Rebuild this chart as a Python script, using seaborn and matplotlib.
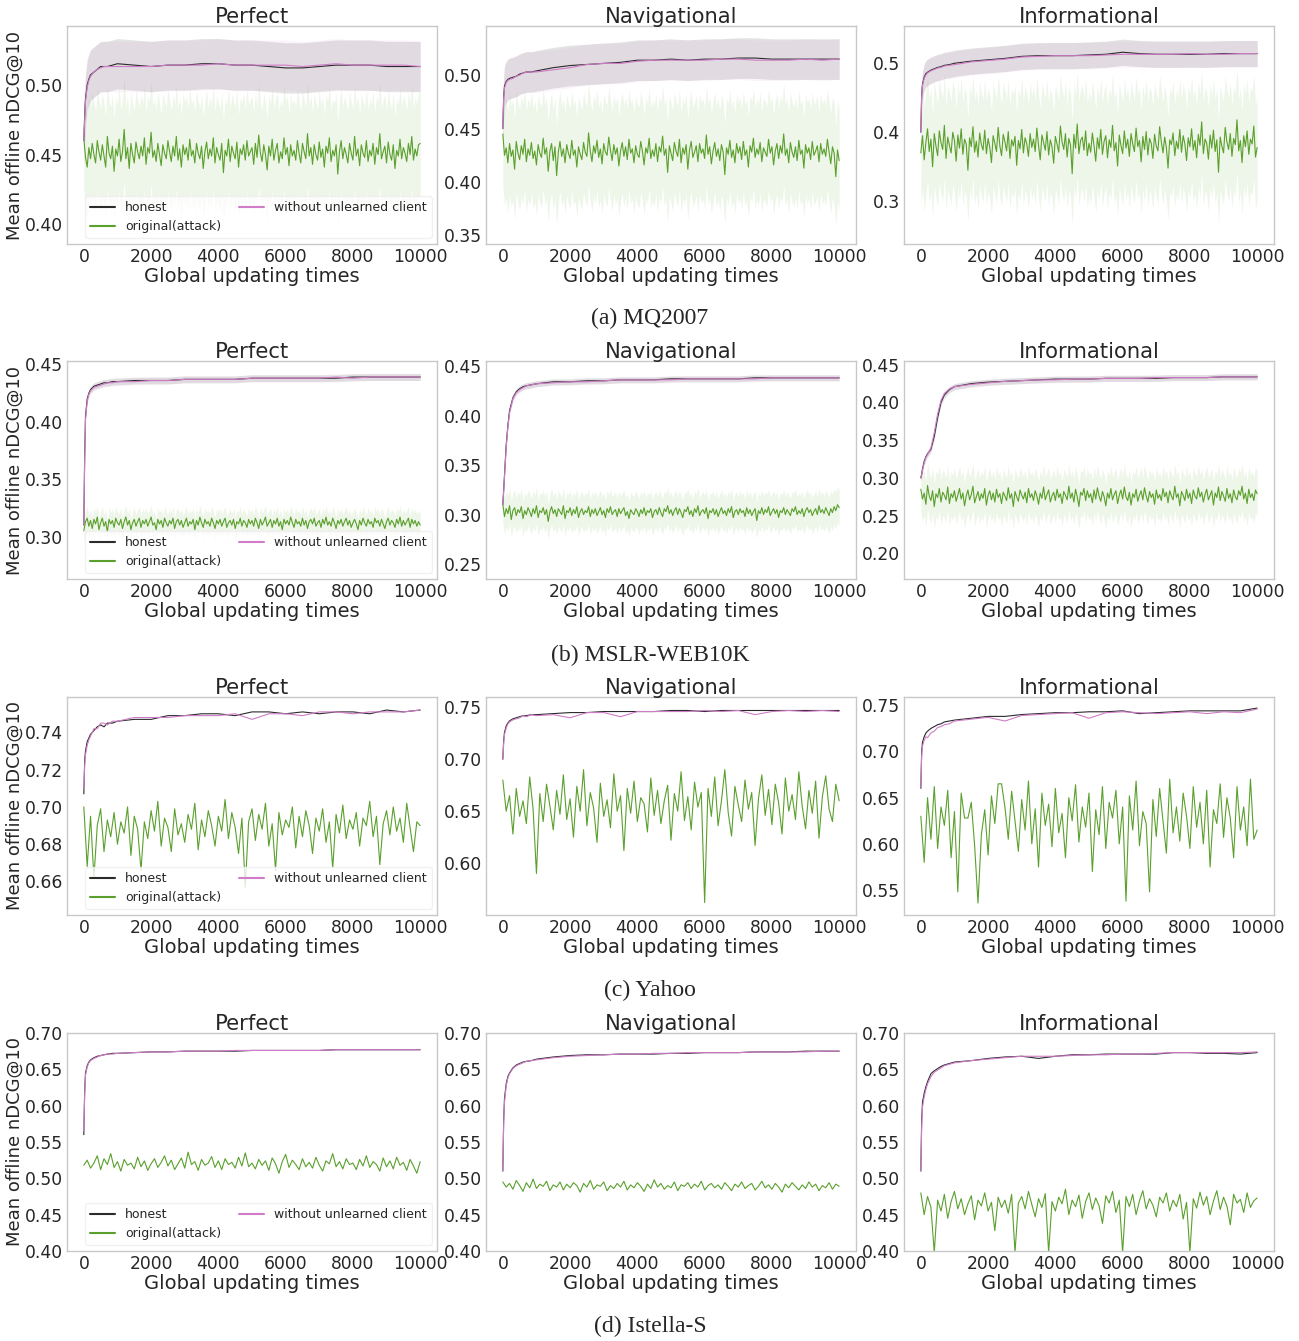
import numpy as np
import pandas as pd
import matplotlib
matplotlib.use("Agg")
import matplotlib.pyplot as plt
import seaborn as sns

# ---------------- data ----------------
DATASETS = ["MQ2007", "MSLR-WEB10K", "Yahoo", "Istella-S"]
CLICK_MODELS = ["Perfect", "Navigational", "Informational"]

# global updating times of the sampled points
STEPS_CURVE = [0, 25, 50, 100, 150, 200, 300, 400, 500, 600, 700, 850, 1000,
               1500, 2000, 2500, 3000, 3500, 4000, 4500, 5000, 5500, 6000,
               6500, 7000, 7500, 8000, 8500, 9000, 9500, 10000]
STEPS_ATTACK_FINE = list(range(0, 10001, 50))     # MQ2007, MSLR-WEB10K
STEPS_ATTACK = list(range(0, 10001, 100))         # Yahoo, Istella-S

# MQ2007
MQ_PER_HON = [0.460, 0.478, 0.490, 0.500, 0.504, 0.507, 0.509, 0.511, 0.513, 0.513, 0.513, 0.514, 0.515, 0.514, 0.513, 0.514, 0.514, 0.515, 0.515, 0.514, 0.514, 0.513, 0.512, 0.512, 0.513, 0.514, 0.514, 0.514, 0.513, 0.513, 0.513]
MQ_PER_UNL = [0.460, 0.475, 0.488, 0.498, 0.503, 0.506, 0.509, 0.511, 0.512, 0.513, 0.513, 0.513, 0.513, 0.513, 0.513, 0.514, 0.514, 0.514, 0.515, 0.514, 0.514, 0.514, 0.514, 0.513, 0.514, 0.515, 0.514, 0.514, 0.514, 0.514, 0.513]
MQ_PER_ATK = [0.462, 0.448, 0.441, 0.455, 0.447, 0.458, 0.450, 0.444, 0.460, 0.452,
              0.446, 0.457, 0.449, 0.441, 0.463, 0.451, 0.447, 0.456, 0.438, 0.454,
              0.449, 0.461, 0.445, 0.452, 0.468, 0.447, 0.455, 0.440, 0.458, 0.450,
              0.444, 0.459, 0.452, 0.447, 0.456, 0.449, 0.462, 0.443, 0.455, 0.451,
              0.466, 0.448, 0.453, 0.445, 0.458, 0.450, 0.442, 0.457, 0.451, 0.447,
              0.460, 0.452, 0.445, 0.456, 0.449, 0.463, 0.446, 0.454, 0.441, 0.457,
              0.450, 0.455, 0.446, 0.461, 0.449, 0.453, 0.444, 0.458, 0.451, 0.447,
              0.456, 0.440, 0.452, 0.459, 0.447, 0.454, 0.449, 0.462, 0.444, 0.455,
              0.450, 0.446, 0.458, 0.437, 0.453, 0.449, 0.461, 0.445, 0.456, 0.451,
              0.447, 0.459, 0.441, 0.454, 0.450, 0.457, 0.446, 0.460, 0.449, 0.452,
              0.455, 0.443, 0.458, 0.448, 0.464, 0.451, 0.445, 0.457, 0.450, 0.439,
              0.456, 0.449, 0.461, 0.446, 0.453, 0.458, 0.444, 0.452, 0.447, 0.462,
              0.450, 0.455, 0.442, 0.457, 0.449, 0.453, 0.446, 0.460, 0.451, 0.444,
              0.458, 0.452, 0.447, 0.465, 0.449, 0.455, 0.443, 0.457, 0.450, 0.446,
              0.459, 0.448, 0.454, 0.441, 0.456, 0.451, 0.462, 0.445, 0.453, 0.449,
              0.457, 0.436, 0.452, 0.460, 0.447, 0.455, 0.450, 0.444, 0.458, 0.451,
              0.446, 0.463, 0.449, 0.454, 0.442, 0.457, 0.451, 0.448, 0.460, 0.445,
              0.453, 0.449, 0.458, 0.443, 0.455, 0.450, 0.465, 0.447, 0.452, 0.456,
              0.444, 0.459, 0.450, 0.446, 0.457, 0.440, 0.453, 0.449, 0.461, 0.447,
              0.455, 0.451, 0.445, 0.458, 0.450, 0.463, 0.446, 0.454, 0.449, 0.457,
              0.458]
MQ_NAV_HON = [0.450, 0.480, 0.490, 0.494, 0.496, 0.497, 0.498, 0.499, 0.501, 0.502, 0.503, 0.503, 0.504, 0.507, 0.509, 0.510, 0.511, 0.512, 0.514, 0.514, 0.515, 0.514, 0.515, 0.515, 0.516, 0.516, 0.515, 0.515, 0.515, 0.515, 0.515]
MQ_NAV_UNL = [0.450, 0.478, 0.488, 0.493, 0.495, 0.496, 0.497, 0.499, 0.500, 0.502, 0.503, 0.503, 0.503, 0.505, 0.507, 0.510, 0.511, 0.511, 0.513, 0.514, 0.514, 0.514, 0.514, 0.515, 0.515, 0.514, 0.514, 0.514, 0.515, 0.514, 0.515]
MQ_NAV_ATK = [0.445, 0.425, 0.432, 0.418, 0.436, 0.424, 0.430, 0.412, 0.438, 0.427,
              0.421, 0.434, 0.426, 0.440, 0.419, 0.431, 0.425, 0.437, 0.422, 0.429,
              0.416, 0.435, 0.427, 0.423, 0.441, 0.426, 0.432, 0.410, 0.429, 0.436,
              0.420, 0.433, 0.406, 0.428, 0.438, 0.424, 0.431, 0.418, 0.435, 0.427,
              0.422, 0.439, 0.425, 0.430, 0.414, 0.433, 0.426, 0.421, 0.437, 0.428,
              0.424, 0.446, 0.429, 0.419, 0.434, 0.427, 0.439, 0.423, 0.431, 0.417,
              0.436, 0.428, 0.425, 0.442, 0.430, 0.420, 0.435, 0.426, 0.432, 0.415,
              0.429, 0.437, 0.424, 0.433, 0.421, 0.440, 0.427, 0.431, 0.418, 0.434,
              0.426, 0.423, 0.438, 0.429, 0.416, 0.432, 0.427, 0.441, 0.422, 0.430,
              0.424, 0.436, 0.419, 0.433, 0.428, 0.443, 0.425, 0.431, 0.409, 0.434,
              0.427, 0.420, 0.437, 0.429, 0.424, 0.440, 0.418, 0.432, 0.426, 0.435,
              0.412, 0.430, 0.438, 0.423, 0.428, 0.434, 0.419, 0.436, 0.427, 0.431,
              0.422, 0.444, 0.426, 0.433, 0.417, 0.429, 0.437, 0.424, 0.431, 0.420,
              0.435, 0.428, 0.407, 0.432, 0.426, 0.439, 0.423, 0.430, 0.418, 0.436,
              0.427, 0.433, 0.421, 0.438, 0.425, 0.430, 0.414, 0.434, 0.428, 0.441,
              0.423, 0.431, 0.426, 0.437, 0.419, 0.432, 0.428, 0.424, 0.440, 0.427,
              0.433, 0.416, 0.429, 0.436, 0.422, 0.434, 0.427, 0.445, 0.425, 0.431,
              0.418, 0.437, 0.428, 0.423, 0.433, 0.420, 0.439, 0.426, 0.430, 0.413,
              0.435, 0.427, 0.432, 0.421, 0.438, 0.425, 0.429, 0.434, 0.419, 0.436,
              0.426, 0.431, 0.424, 0.440, 0.428, 0.417, 0.433, 0.427, 0.405, 0.430,
              0.420]
MQ_INF_HON = [0.400, 0.455, 0.470, 0.480, 0.485, 0.487, 0.490, 0.492, 0.494, 0.495, 0.497, 0.498, 0.500, 0.503, 0.505, 0.507, 0.510, 0.511, 0.511, 0.511, 0.512, 0.513, 0.516, 0.514, 0.513, 0.513, 0.513, 0.513, 0.514, 0.514, 0.514]
MQ_INF_UNL = [0.400, 0.452, 0.468, 0.478, 0.483, 0.486, 0.489, 0.491, 0.493, 0.494, 0.496, 0.497, 0.498, 0.502, 0.504, 0.506, 0.509, 0.510, 0.511, 0.511, 0.511, 0.512, 0.513, 0.513, 0.513, 0.513, 0.514, 0.513, 0.513, 0.514, 0.514]
MQ_INF_ATK = [0.370, 0.395, 0.360, 0.385, 0.405, 0.372, 0.390, 0.350, 0.398, 0.380,
              0.366, 0.402, 0.385, 0.375, 0.410, 0.362, 0.393, 0.381, 0.370, 0.400,
              0.388, 0.358, 0.396, 0.377, 0.405, 0.368, 0.390, 0.383, 0.345, 0.392,
              0.379, 0.408, 0.371, 0.387, 0.364, 0.399, 0.382, 0.374, 0.403, 0.369,
              0.391, 0.378, 0.356, 0.395, 0.384, 0.372, 0.407, 0.380, 0.366, 0.397,
              0.386, 0.373, 0.401, 0.362, 0.389, 0.380, 0.394, 0.352, 0.388, 0.376,
              0.404, 0.370, 0.392, 0.383, 0.365, 0.398, 0.378, 0.390, 0.372, 0.406,
              0.381, 0.360, 0.396, 0.385, 0.374, 0.401, 0.367, 0.389, 0.379, 0.355,
              0.394, 0.383, 0.371, 0.409, 0.386, 0.375, 0.398, 0.364, 0.391, 0.382,
              0.340, 0.397, 0.377, 0.412, 0.369, 0.388, 0.393, 0.374, 0.402, 0.366,
              0.384, 0.371, 0.399, 0.380, 0.358, 0.392, 0.376, 0.404, 0.368, 0.387,
              0.395, 0.363, 0.389, 0.378, 0.410, 0.373, 0.385, 0.351, 0.396, 0.381,
              0.369, 0.402, 0.377, 0.390, 0.365, 0.398, 0.383, 0.372, 0.406, 0.379,
              0.388, 0.357, 0.394, 0.375, 0.401, 0.367, 0.391, 0.384, 0.362, 0.397,
              0.380, 0.373, 0.408, 0.386, 0.370, 0.393, 0.378, 0.348, 0.389, 0.382,
              0.399, 0.366, 0.387, 0.376, 0.404, 0.371, 0.395, 0.383, 0.359, 0.392,
              0.379, 0.405, 0.374, 0.388, 0.363, 0.397, 0.381, 0.415, 0.369, 0.390,
              0.384, 0.361, 0.396, 0.377, 0.403, 0.372, 0.389, 0.342, 0.393, 0.380,
              0.370, 0.407, 0.386, 0.375, 0.398, 0.365, 0.391, 0.382, 0.418, 0.373,
              0.388, 0.356, 0.395, 0.379, 0.402, 0.368, 0.390, 0.383, 0.409, 0.364,
              0.378]

# MSLR-WEB10K
MS_PER_HON = [0.310, 0.370, 0.405, 0.420, 0.425, 0.428, 0.431, 0.432, 0.433, 0.434, 0.434, 0.435, 0.435, 0.436, 0.436, 0.436, 0.437, 0.437, 0.437, 0.437, 0.438, 0.438, 0.438, 0.438, 0.438, 0.438, 0.439, 0.439, 0.439, 0.439, 0.439]
MS_PER_UNL = [0.310, 0.365, 0.402, 0.418, 0.424, 0.427, 0.430, 0.431, 0.432, 0.433, 0.434, 0.434, 0.435, 0.435, 0.436, 0.436, 0.437, 0.437, 0.437, 0.437, 0.438, 0.438, 0.438, 0.438, 0.438, 0.439, 0.438, 0.439, 0.439, 0.439, 0.439]
MS_PER_ATK = [0.305, 0.313, 0.316, 0.309, 0.314, 0.307, 0.315, 0.311, 0.317, 0.306,
              0.312, 0.316, 0.309, 0.313, 0.304, 0.315, 0.311, 0.314, 0.308, 0.316,
              0.312, 0.310, 0.315, 0.307, 0.313, 0.317, 0.310, 0.314, 0.306, 0.312,
              0.315, 0.309, 0.313, 0.316, 0.308, 0.314, 0.311, 0.315, 0.309, 0.313,
              0.317, 0.310, 0.312, 0.306, 0.315, 0.311, 0.314, 0.308, 0.316, 0.312,
              0.309, 0.314, 0.311, 0.316, 0.307, 0.313, 0.315, 0.310, 0.314, 0.308,
              0.312, 0.316, 0.309, 0.313, 0.311, 0.315, 0.306, 0.314, 0.310, 0.317,
              0.312, 0.308, 0.315, 0.311, 0.313, 0.309, 0.316, 0.312, 0.307, 0.314,
              0.311, 0.315, 0.309, 0.313, 0.316, 0.308, 0.312, 0.314, 0.310, 0.315,
              0.307, 0.313, 0.311, 0.316, 0.309, 0.314, 0.312, 0.308, 0.315, 0.311,
              0.314, 0.309, 0.316, 0.312, 0.307, 0.315, 0.310, 0.313, 0.317, 0.309,
              0.312, 0.315, 0.308, 0.314, 0.311, 0.316, 0.309, 0.313, 0.306, 0.315,
              0.311, 0.314, 0.310, 0.317, 0.312, 0.308, 0.315, 0.311, 0.313, 0.309,
              0.316, 0.310, 0.314, 0.307, 0.313, 0.315, 0.311, 0.316, 0.309, 0.312,
              0.314, 0.308, 0.315, 0.311, 0.317, 0.310, 0.313, 0.309, 0.316, 0.312,
              0.307, 0.314, 0.311, 0.315, 0.309, 0.313, 0.316, 0.310, 0.314, 0.308,
              0.312, 0.315, 0.311, 0.306, 0.314, 0.310, 0.316, 0.312, 0.309, 0.315,
              0.311, 0.313, 0.308, 0.316, 0.312, 0.314, 0.309, 0.315, 0.311, 0.307,
              0.313, 0.316, 0.310, 0.314, 0.312, 0.308, 0.315, 0.311, 0.317, 0.309,
              0.314, 0.310, 0.313, 0.316, 0.308, 0.315, 0.311, 0.314, 0.309, 0.313,
              0.310]
MS_NAV_HON = [0.310, 0.325, 0.340, 0.370, 0.390, 0.405, 0.418, 0.424, 0.427, 0.429, 0.430, 0.431, 0.432, 0.434, 0.434, 0.435, 0.435, 0.436, 0.436, 0.436, 0.437, 0.437, 0.437, 0.437, 0.437, 0.438, 0.438, 0.438, 0.438, 0.438, 0.438]
MS_NAV_UNL = [0.310, 0.323, 0.338, 0.368, 0.388, 0.403, 0.417, 0.423, 0.426, 0.428, 0.430, 0.431, 0.432, 0.433, 0.434, 0.434, 0.435, 0.436, 0.436, 0.436, 0.436, 0.437, 0.437, 0.437, 0.437, 0.437, 0.438, 0.438, 0.438, 0.438, 0.438]
MS_NAV_ATK = [0.310, 0.298, 0.306, 0.301, 0.309, 0.295, 0.304, 0.307, 0.299, 0.305,
              0.302, 0.308, 0.296, 0.304, 0.300, 0.307, 0.303, 0.298, 0.306, 0.301,
              0.309, 0.297, 0.304, 0.302, 0.307, 0.300, 0.305, 0.293, 0.303, 0.308,
              0.301, 0.305, 0.298, 0.306, 0.303, 0.300, 0.309, 0.296, 0.304, 0.302,
              0.307, 0.299, 0.305, 0.301, 0.308, 0.297, 0.303, 0.306, 0.300, 0.304,
              0.302, 0.308, 0.298, 0.305, 0.301, 0.306, 0.299, 0.303, 0.307, 0.300,
              0.304, 0.297, 0.306, 0.302, 0.308, 0.300, 0.303, 0.305, 0.298, 0.306,
              0.301, 0.304, 0.307, 0.299, 0.303, 0.296, 0.305, 0.302, 0.300, 0.306,
              0.303, 0.298, 0.305, 0.301, 0.307, 0.299, 0.304, 0.302, 0.306, 0.297,
              0.303, 0.305, 0.300, 0.307, 0.302, 0.298, 0.306, 0.303, 0.309, 0.301,
              0.305, 0.299, 0.304, 0.307, 0.300, 0.306, 0.302, 0.297, 0.305, 0.303,
              0.308, 0.300, 0.304, 0.298, 0.306, 0.302, 0.309, 0.299, 0.303, 0.305,
              0.301, 0.307, 0.296, 0.304, 0.302, 0.306, 0.300, 0.305, 0.298, 0.303,
              0.307, 0.301, 0.304, 0.299, 0.306, 0.302, 0.308, 0.297, 0.303, 0.305,
              0.300, 0.306, 0.302, 0.304, 0.298, 0.307, 0.301, 0.305, 0.299, 0.303,
              0.306, 0.294, 0.304, 0.301, 0.307, 0.300, 0.305, 0.302, 0.308, 0.299,
              0.303, 0.306, 0.301, 0.305, 0.297, 0.304, 0.302, 0.307, 0.300, 0.305,
              0.302, 0.299, 0.306, 0.303, 0.308, 0.300, 0.304, 0.301, 0.306, 0.298,
              0.304, 0.307, 0.302, 0.305, 0.299, 0.303, 0.306, 0.300, 0.309, 0.302,
              0.305, 0.301, 0.307, 0.303, 0.299, 0.306, 0.302, 0.308, 0.304, 0.310,
              0.307]
MS_INF_HON = [0.300, 0.305, 0.312, 0.322, 0.328, 0.332, 0.338, 0.355, 0.380, 0.400, 0.410, 0.417, 0.421, 0.425, 0.427, 0.428, 0.429, 0.430, 0.431, 0.431, 0.431, 0.432, 0.432, 0.432, 0.432, 0.433, 0.433, 0.433, 0.434, 0.434, 0.434]
MS_INF_UNL = [0.300, 0.304, 0.310, 0.320, 0.327, 0.331, 0.340, 0.360, 0.385, 0.403, 0.412, 0.418, 0.421, 0.424, 0.426, 0.428, 0.429, 0.430, 0.430, 0.431, 0.431, 0.432, 0.432, 0.432, 0.433, 0.433, 0.433, 0.433, 0.434, 0.434, 0.434]
MS_INF_ATK = [0.285, 0.272, 0.280, 0.265, 0.290, 0.276, 0.270, 0.283, 0.262, 0.279,
              0.274, 0.286, 0.268, 0.281, 0.277, 0.271, 0.288, 0.266, 0.279, 0.274,
              0.283, 0.269, 0.277, 0.286, 0.272, 0.280, 0.263, 0.276, 0.284, 0.271,
              0.278, 0.289, 0.267, 0.275, 0.282, 0.270, 0.279, 0.273, 0.286, 0.264,
              0.277, 0.283, 0.271, 0.280, 0.268, 0.285, 0.274, 0.279, 0.266, 0.281,
              0.276, 0.270, 0.287, 0.273, 0.279, 0.262, 0.282, 0.275, 0.269, 0.284,
              0.277, 0.272, 0.281, 0.267, 0.286, 0.274, 0.279, 0.270, 0.283, 0.276,
              0.265, 0.280, 0.273, 0.288, 0.271, 0.278, 0.284, 0.268, 0.276, 0.281,
              0.270, 0.285, 0.274, 0.279, 0.266, 0.282, 0.277, 0.271, 0.289, 0.273,
              0.280, 0.268, 0.285, 0.275, 0.262, 0.281, 0.277, 0.286, 0.270, 0.283,
              0.274, 0.279, 0.267, 0.284, 0.272, 0.287, 0.276, 0.269, 0.282, 0.275,
              0.263, 0.280, 0.273, 0.286, 0.271, 0.278, 0.283, 0.266, 0.277, 0.284,
              0.272, 0.288, 0.275, 0.270, 0.281, 0.264, 0.279, 0.274, 0.285, 0.269,
              0.277, 0.283, 0.271, 0.287, 0.276, 0.268, 0.282, 0.274, 0.279, 0.265,
              0.284, 0.273, 0.278, 0.270, 0.286, 0.275, 0.281, 0.267, 0.283, 0.276,
              0.271, 0.289, 0.274, 0.279, 0.263, 0.282, 0.277, 0.270, 0.285, 0.273,
              0.280, 0.266, 0.284, 0.276, 0.272, 0.287, 0.275, 0.281, 0.268, 0.278,
              0.285, 0.271, 0.277, 0.283, 0.264, 0.280, 0.274, 0.288, 0.270, 0.282,
              0.276, 0.269, 0.286, 0.273, 0.279, 0.267, 0.284, 0.275, 0.271, 0.283,
              0.277, 0.289, 0.272, 0.280, 0.266, 0.285, 0.274, 0.279, 0.270, 0.284,
              0.279]

# Yahoo
YH_PER_HON = [0.707, 0.725, 0.730, 0.735, 0.737, 0.739, 0.741, 0.743, 0.744, 0.743, 0.745, 0.745, 0.746, 0.747, 0.747, 0.749, 0.749, 0.750, 0.750, 0.749, 0.751, 0.751, 0.750, 0.751, 0.750, 0.751, 0.751, 0.750, 0.752, 0.751, 0.752]
YH_PER_UNL = [0.710, 0.722, 0.728, 0.733, 0.736, 0.738, 0.742, 0.742, 0.745, 0.745, 0.744, 0.746, 0.746, 0.748, 0.748, 0.748, 0.749, 0.749, 0.749, 0.750, 0.747, 0.750, 0.750, 0.749, 0.751, 0.751, 0.750, 0.751, 0.751, 0.751, 0.752]
YH_PER_ATK = [0.700, 0.668, 0.695, 0.662, 0.690, 0.699, 0.676, 0.693, 0.684, 0.697,
              0.680, 0.692, 0.686, 0.700, 0.674, 0.695, 0.688, 0.666, 0.692, 0.683,
              0.698, 0.687, 0.703, 0.679, 0.694, 0.689, 0.676, 0.699, 0.685, 0.691,
              0.681, 0.696, 0.688, 0.702, 0.677, 0.693, 0.684, 0.698, 0.690, 0.679,
              0.695, 0.687, 0.704, 0.683, 0.697, 0.689, 0.675, 0.694, 0.657, 0.692,
              0.699, 0.682, 0.696, 0.688, 0.702, 0.679, 0.691, 0.666, 0.697, 0.685,
              0.693, 0.689, 0.700, 0.678, 0.695, 0.684, 0.698, 0.690, 0.675, 0.694,
              0.687, 0.699, 0.681, 0.692, 0.667, 0.696, 0.686, 0.701, 0.683, 0.693,
              0.688, 0.697, 0.679, 0.694, 0.690, 0.703, 0.684, 0.695, 0.669, 0.691,
              0.698, 0.685, 0.700, 0.687, 0.694, 0.681, 0.702, 0.689, 0.676, 0.692,
              0.690]
YH_NAV_HON = [0.700, 0.718, 0.726, 0.732, 0.735, 0.737, 0.739, 0.740, 0.741, 0.742, 0.742, 0.743, 0.743, 0.744, 0.745, 0.745, 0.746, 0.746, 0.746, 0.746, 0.747, 0.747, 0.746, 0.747, 0.747, 0.747, 0.747, 0.747, 0.747, 0.747, 0.747]
YH_NAV_UNL = [0.700, 0.715, 0.724, 0.730, 0.734, 0.736, 0.738, 0.739, 0.740, 0.742, 0.741, 0.743, 0.742, 0.743, 0.740, 0.745, 0.745, 0.741, 0.746, 0.746, 0.746, 0.746, 0.747, 0.746, 0.747, 0.743, 0.746, 0.747, 0.746, 0.747, 0.746]
YH_NAV_ATK = [0.680, 0.650, 0.665, 0.628, 0.672, 0.645, 0.660, 0.638, 0.683, 0.652,
              0.590, 0.667, 0.640, 0.676, 0.655, 0.632, 0.670, 0.647, 0.685, 0.642,
              0.662, 0.625, 0.674, 0.650, 0.690, 0.636, 0.668, 0.653, 0.620, 0.677,
              0.645, 0.661, 0.634, 0.686, 0.650, 0.665, 0.612, 0.672, 0.648, 0.679,
              0.640, 0.663, 0.657, 0.630, 0.682, 0.646, 0.670, 0.638, 0.660, 0.675,
              0.622, 0.667, 0.650, 0.688, 0.641, 0.664, 0.632, 0.678, 0.654, 0.668,
              0.562, 0.672, 0.645, 0.683, 0.636, 0.660, 0.690, 0.649, 0.626, 0.674,
              0.656, 0.640, 0.680, 0.652, 0.668, 0.617, 0.662, 0.685, 0.646, 0.671,
              0.637, 0.676, 0.658, 0.628, 0.682, 0.650, 0.666, 0.642, 0.688, 0.655,
              0.633, 0.670, 0.648, 0.679, 0.624, 0.664, 0.684, 0.652, 0.640, 0.676,
              0.660]
YH_INF_HON = [0.660, 0.700, 0.710, 0.716, 0.720, 0.722, 0.725, 0.727, 0.729, 0.730, 0.732, 0.733, 0.734, 0.736, 0.738, 0.738, 0.740, 0.741, 0.742, 0.742, 0.743, 0.743, 0.744, 0.741, 0.742, 0.743, 0.744, 0.744, 0.744, 0.744, 0.747]
YH_INF_UNL = [0.660, 0.695, 0.706, 0.712, 0.716, 0.715, 0.720, 0.722, 0.726, 0.727, 0.729, 0.730, 0.733, 0.735, 0.737, 0.733, 0.739, 0.740, 0.741, 0.742, 0.736, 0.742, 0.743, 0.742, 0.741, 0.742, 0.743, 0.741, 0.743, 0.742, 0.746]
YH_INF_ATK = [0.630, 0.580, 0.650, 0.605, 0.662, 0.595, 0.640, 0.620, 0.658, 0.585,
              0.635, 0.548, 0.655, 0.628, 0.628, 0.645, 0.598, 0.536, 0.610, 0.637,
              0.588, 0.652, 0.622, 0.665, 0.665, 0.640, 0.605, 0.657, 0.625, 0.592,
              0.648, 0.615, 0.668, 0.600, 0.638, 0.575, 0.655, 0.620, 0.643, 0.597,
              0.660, 0.612, 0.633, 0.585, 0.650, 0.625, 0.664, 0.602, 0.640, 0.618,
              0.655, 0.570, 0.637, 0.610, 0.662, 0.595, 0.645, 0.628, 0.658, 0.600,
              0.640, 0.538, 0.652, 0.615, 0.668, 0.598, 0.635, 0.622, 0.548, 0.648,
              0.608, 0.660, 0.625, 0.590, 0.670, 0.612, 0.640, 0.603, 0.655, 0.630,
              0.595, 0.662, 0.618, 0.645, 0.600, 0.658, 0.575, 0.637, 0.622, 0.665,
              0.607, 0.650, 0.628, 0.585, 0.662, 0.615, 0.640, 0.598, 0.670, 0.605,
              0.615]

# Istella-S
IS_PER_HON = [0.560, 0.620, 0.645, 0.655, 0.660, 0.663, 0.666, 0.668, 0.669, 0.670, 0.671, 0.672, 0.672, 0.673, 0.674, 0.674, 0.675, 0.675, 0.675, 0.675, 0.676, 0.676, 0.676, 0.676, 0.676, 0.677, 0.677, 0.677, 0.677, 0.677, 0.677]
IS_PER_UNL = [0.565, 0.615, 0.642, 0.653, 0.659, 0.662, 0.665, 0.667, 0.669, 0.670, 0.671, 0.671, 0.672, 0.673, 0.674, 0.674, 0.675, 0.675, 0.675, 0.676, 0.676, 0.676, 0.676, 0.676, 0.676, 0.677, 0.677, 0.677, 0.677, 0.677, 0.677]
IS_PER_ATK = [0.518, 0.525, 0.514, 0.521, 0.531, 0.512, 0.527, 0.519, 0.534, 0.515,
              0.523, 0.510, 0.526, 0.518, 0.521, 0.513, 0.529, 0.516, 0.524, 0.511,
              0.520, 0.527, 0.515, 0.522, 0.531, 0.517, 0.525, 0.512, 0.520, 0.528,
              0.514, 0.536, 0.519, 0.523, 0.511, 0.526, 0.518, 0.521, 0.530, 0.515,
              0.524, 0.512, 0.527, 0.519, 0.522, 0.514, 0.529, 0.517, 0.535, 0.516,
              0.521, 0.513, 0.526, 0.518, 0.524, 0.511, 0.528, 0.520, 0.507, 0.523,
              0.533, 0.515, 0.525, 0.519, 0.512, 0.527, 0.516, 0.522, 0.514, 0.529,
              0.518, 0.510, 0.524, 0.520, 0.534, 0.516, 0.523, 0.513, 0.527, 0.519,
              0.521, 0.512, 0.526, 0.517, 0.531, 0.515, 0.523, 0.519, 0.510, 0.528,
              0.516, 0.524, 0.513, 0.529, 0.518, 0.522, 0.511, 0.526, 0.517, 0.507,
              0.523]
IS_NAV_HON = [0.510, 0.580, 0.610, 0.630, 0.640, 0.645, 0.652, 0.656, 0.658, 0.660, 0.661, 0.662, 0.664, 0.667, 0.669, 0.670, 0.670, 0.671, 0.671, 0.671, 0.672, 0.672, 0.673, 0.673, 0.673, 0.674, 0.674, 0.674, 0.675, 0.675, 0.675]
IS_NAV_UNL = [0.510, 0.575, 0.605, 0.627, 0.638, 0.644, 0.651, 0.655, 0.657, 0.659, 0.661, 0.662, 0.663, 0.666, 0.668, 0.669, 0.670, 0.671, 0.671, 0.672, 0.672, 0.673, 0.673, 0.673, 0.673, 0.674, 0.674, 0.674, 0.674, 0.675, 0.675]
IS_NAV_ATK = [0.495, 0.488, 0.493, 0.485, 0.497, 0.490, 0.482, 0.494, 0.487, 0.499,
              0.486, 0.492, 0.489, 0.496, 0.483, 0.491, 0.488, 0.495, 0.484, 0.492,
              0.487, 0.494, 0.490, 0.481, 0.493, 0.488, 0.497, 0.485, 0.491, 0.489,
              0.495, 0.483, 0.490, 0.486, 0.493, 0.488, 0.496, 0.484, 0.491, 0.487,
              0.494, 0.489, 0.482, 0.492, 0.486, 0.498, 0.488, 0.493, 0.485, 0.490,
              0.487, 0.495, 0.483, 0.491, 0.489, 0.494, 0.486, 0.492, 0.488, 0.496,
              0.484, 0.490, 0.493, 0.487, 0.491, 0.485, 0.494, 0.489, 0.483, 0.492,
              0.488, 0.495, 0.486, 0.490, 0.493, 0.484, 0.489, 0.496, 0.487, 0.491,
              0.485, 0.493, 0.488, 0.481, 0.492, 0.487, 0.494, 0.489, 0.484, 0.491,
              0.486, 0.495, 0.488, 0.492, 0.483, 0.490, 0.487, 0.494, 0.485, 0.492,
              0.489]
IS_INF_HON = [0.510, 0.580, 0.605, 0.617, 0.626, 0.633, 0.644, 0.648, 0.651, 0.654, 0.656, 0.658, 0.660, 0.662, 0.665, 0.667, 0.668, 0.665, 0.668, 0.670, 0.670, 0.671, 0.671, 0.671, 0.671, 0.673, 0.673, 0.672, 0.672, 0.671, 0.673]
IS_INF_UNL = [0.510, 0.570, 0.598, 0.612, 0.622, 0.630, 0.640, 0.646, 0.649, 0.652, 0.655, 0.657, 0.659, 0.662, 0.664, 0.666, 0.668, 0.668, 0.668, 0.669, 0.670, 0.670, 0.671, 0.671, 0.672, 0.673, 0.673, 0.673, 0.673, 0.673, 0.674]
IS_INF_ATK = [0.480, 0.450, 0.475, 0.460, 0.398, 0.470, 0.455, 0.478, 0.445, 0.468,
              0.482, 0.458, 0.472, 0.450, 0.465, 0.476, 0.443, 0.470, 0.462, 0.480,
              0.455, 0.467, 0.428, 0.474, 0.460, 0.470, 0.452, 0.478, 0.398, 0.466,
              0.475, 0.458, 0.482, 0.464, 0.447, 0.472, 0.460, 0.479, 0.398, 0.468,
              0.455, 0.474, 0.465, 0.485, 0.450, 0.470, 0.461, 0.477, 0.445, 0.468,
              0.480, 0.457, 0.473, 0.462, 0.438, 0.476, 0.466, 0.482, 0.453, 0.470,
              0.398, 0.475, 0.461, 0.478, 0.450, 0.469, 0.483, 0.458, 0.472, 0.463,
              0.447, 0.474, 0.466, 0.480, 0.455, 0.470, 0.461, 0.478, 0.444, 0.467,
              0.398, 0.472, 0.459, 0.481, 0.463, 0.475, 0.450, 0.469, 0.483, 0.457,
              0.474, 0.462, 0.436, 0.478, 0.466, 0.471, 0.453, 0.480, 0.460, 0.469,
              0.473]

# standard deviation bands (half width) per dataset row
HONEST_SD = [[0.018, 0.019, 0.019], [0.003, 0.003, 0.004], [0, 0, 0], [0, 0, 0]]
ATTACK_SD = [[0.037, 0.047, 0.075], [0.010, 0.018, 0.030], [0, 0, 0], [0, 0, 0]]

# axis settings
Y_LIMS = [[(0.386, 0.542), (0.342, 0.546), (0.238, 0.554)],
          [(0.263, 0.453), (0.235, 0.455), (0.166, 0.455)],
          [(0.642, 0.759), (0.550, 0.760), (0.523, 0.759)],
          [(0.40, 0.70), (0.40, 0.70), (0.40, 0.70)]]
Y_TICKS = [[[0.40, 0.45, 0.50], [0.35, 0.40, 0.45, 0.50], [0.3, 0.4, 0.5]],
           [[0.30, 0.35, 0.40, 0.45], [0.25, 0.30, 0.35, 0.40, 0.45],
            [0.20, 0.25, 0.30, 0.35, 0.40, 0.45]],
           [[0.66, 0.68, 0.70, 0.72, 0.74], [0.60, 0.65, 0.70, 0.75],
            [0.55, 0.60, 0.65, 0.70, 0.75]],
           [[0.40, 0.45, 0.50, 0.55, 0.60, 0.65, 0.70]] * 3]

HONEST = [[MQ_PER_HON, MQ_NAV_HON, MQ_INF_HON], [MS_PER_HON, MS_NAV_HON, MS_INF_HON],
          [YH_PER_HON, YH_NAV_HON, YH_INF_HON], [IS_PER_HON, IS_NAV_HON, IS_INF_HON]]
UNLEARN = [[MQ_PER_UNL, MQ_NAV_UNL, MQ_INF_UNL], [MS_PER_UNL, MS_NAV_UNL, MS_INF_UNL],
           [YH_PER_UNL, YH_NAV_UNL, YH_INF_UNL], [IS_PER_UNL, IS_NAV_UNL, IS_INF_UNL]]
ATTACK = [[MQ_PER_ATK, MQ_NAV_ATK, MQ_INF_ATK], [MS_PER_ATK, MS_NAV_ATK, MS_INF_ATK],
          [YH_PER_ATK, YH_NAV_ATK, YH_INF_ATK], [IS_PER_ATK, IS_NAV_ATK, IS_INF_ATK]]

C_HONEST = "#2b2b2b"
C_UNLEARN = "#d07cc8"
C_ATTACK = "#5aa02c"

# ---------------- plotting ----------------
sns.set_style("white")
plt.rcParams["font.family"] = ["DejaVu Sans"]

W, H = 1299, 1341
fig = plt.figure(figsize=(W / 100, H / 100), dpi=100)

col_left = [67, 486, 904]
row_top = [26, 361, 697, 1033]
ax_w, ax_h = 370, 218
caption_y = [318, 655, 990, 1326]

for r, dataset in enumerate(DATASETS):
    for c, model in enumerate(CLICK_MODELS):
        ax = fig.add_axes([col_left[c] / W, 1 - (row_top[r] + ax_h) / H, ax_w / W, ax_h / H])
        hon = np.array(HONEST[r][c])
        unl = np.array(UNLEARN[r][c])
        atk = np.array(ATTACK[r][c])
        steps_atk = STEPS_ATTACK_FINE if len(atk) == len(STEPS_ATTACK_FINE) else STEPS_ATTACK
        df_c = pd.DataFrame({"step": STEPS_CURVE, "honest": hon, "unlearn": unl})
        df_a = pd.DataFrame({"step": steps_atk, "attack": atk})

        sd_h = HONEST_SD[r][c]
        sd_a = ATTACK_SD[r][c]
        if sd_a > 0:
            ax.fill_between(steps_atk, atk - sd_a, atk + sd_a, color=C_ATTACK, alpha=0.1, lw=0)
        if sd_h > 0:
            ax.fill_between(STEPS_CURVE, hon - sd_h, hon + sd_h, color=C_HONEST, alpha=0.13, lw=0)
            ax.fill_between(STEPS_CURVE, unl - sd_h, unl + sd_h, color=C_UNLEARN, alpha=0.08, lw=0)

        sns.lineplot(data=df_c, x="step", y="honest", ax=ax, color=C_HONEST, lw=0.8, label="honest")
        sns.lineplot(data=df_a, x="step", y="attack", ax=ax, color=C_ATTACK, lw=0.8, label="original(attack)")
        sns.lineplot(data=df_c, x="step", y="unlearn", ax=ax, color=C_UNLEARN, lw=0.8,
                     label="without unlearned client")

        ax.set_xlim(-500, 10500)
        ax.set_xticks([0, 2000, 4000, 6000, 8000, 10000])
        ax.set_ylim(*Y_LIMS[r][c])
        ax.set_yticks(Y_TICKS[r][c])
        ax.tick_params(labelsize=12.3, length=0, pad=3)
        ax.set_title(model, fontsize=15.2, pad=2)
        ax.set_xlabel("Global updating times", fontsize=14, labelpad=0.5)
        for s in ax.spines.values():
            s.set_color("#c8c8c8")
            s.set_linewidth(1.0)

        if c == 0:
            ax.set_ylabel("Mean offline nDCG@10", fontsize=13)
            ax.yaxis.set_label_coords(-0.117, 0.5)
            leg = ax.legend(loc="lower left", ncol=2, mode="expand",
                            bbox_to_anchor=(0.049, 0.028, 0.937, 0.172),
                            fontsize=9, frameon=True, handlelength=2.0,
                            borderaxespad=0, labelspacing=0.45)
            leg.get_frame().set_edgecolor("#eeeeee")
            for line in leg.get_lines():
                line.set_linewidth(1.5)
        else:
            ax.set_ylabel("")
            if ax.get_legend() is not None:
                ax.get_legend().remove()

    fig.text(650 / W, 1 - caption_y[r] / H, "(%s) %s" % ("abcd"[r], dataset),
             ha="center", va="center", fontsize=17, family=["Liberation Serif", "DejaVu Serif"])

fig.savefig("out.png", dpi=100)
